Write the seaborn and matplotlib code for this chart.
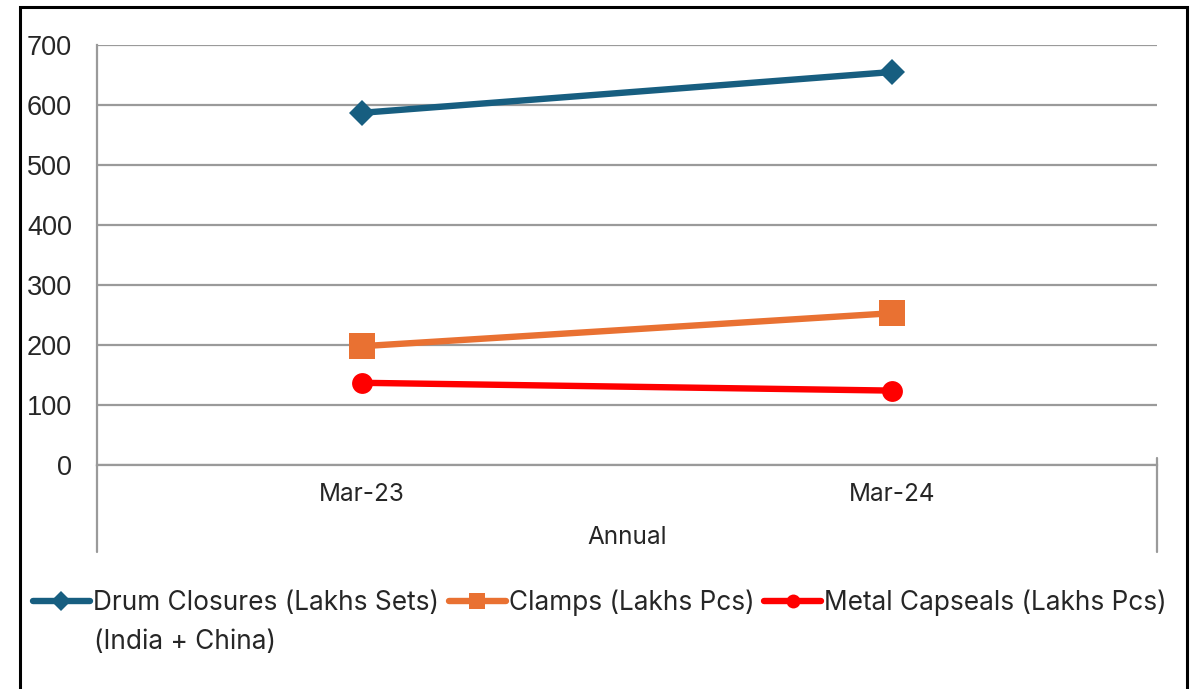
import pandas as pd
import matplotlib.pyplot as plt
import seaborn as sns
from matplotlib.lines import Line2D
from matplotlib.patches import Rectangle

# chart values
periods = ["Mar-23", "Mar-24"]
drum_closures = [587, 655]
clamps = [198, 253]
metal_capseals = [137, 124]

series_names = ["Drum Closures (Lakhs Sets)", "Clamps (Lakhs Pcs)", "Metal Capseals (Lakhs Pcs)"]
series_values = [drum_closures, clamps, metal_capseals]
series_colors = ["#175E80", "#E97132", "#FF0000"]
series_markers = ["D", "s", "o"]
marker_sizes = [13, 18.5, 15]
legend_marker_sizes = [10, 11, 10]
y_ticks = [0, 100, 200, 300, 400, 500, 600, 700]

sns.set_style("white")
plt.rcParams['font.family'] = ['Inter', 'DejaVu Sans']

grey = "#9A9A9A"
W, H = 1196, 689

fig = plt.figure(figsize=(W / 100, H / 100), dpi=100)
ax = fig.add_axes([97 / W, 1 - 465 / H, 1060 / W, 420 / H])

for name, vals, col, mk, ms in zip(series_names, series_values, series_colors, series_markers, marker_sizes):
    df = pd.DataFrame({"period": periods, "value": vals})
    sns.lineplot(data=df, x="period", y="value", ax=ax, color=col, marker=mk,
                 markersize=ms, markeredgewidth=0, linewidth=4.6, sort=False,
                 solid_capstyle="round", zorder=3)

ax.set_xlim(-0.5, 1.5)
ax.set_ylim(0, 700)
ax.set_yticks(y_ticks)
ax.set_yticklabels([str(v) for v in y_ticks], family="Liberation Sans", fontsize=19.5)
ax.set_xticks([0, 1])
ax.set_xticklabels(periods, fontsize=17.5)
ax.set_xticks([-0.5, 0.5, 1.5], minor=True)
ax.set_xlabel("Annual", fontsize=17.5, labelpad=14)
ax.set_ylabel("")

ax.yaxis.grid(True, color=grey, linewidth=1.6)
ax.set_axisbelow(True)
ax.tick_params(axis="y", direction="out", length=5, width=1.6, color=grey, pad=13)
ax.tick_params(axis="x", which="both", direction="inout", length=10, width=1.6, color=grey, pad=8)

for side in ["top", "right"]:
    ax.spines[side].set_visible(False)
for side in ["left", "bottom"]:
    ax.spines[side].set_color(grey)
    ax.spines[side].set_linewidth(1.6)

# outer category separators (Excel multi-level axis)
tr = ax.get_xaxis_transform()
ax.plot([-0.5, -0.5], [0, -0.207], transform=tr, color=grey, lw=1.6, clip_on=False)
ax.plot([1.5, 1.5], [0.017, -0.207], transform=tr, color=grey, lw=1.6, clip_on=False)

# legend
handles = [Line2D([], [], color=c, marker=m, markersize=s, markeredgewidth=0, linewidth=4.6,
                  solid_capstyle="round")
           for c, m, s in zip(series_colors, series_markers, legend_marker_sizes)]
fig.legend(handles, series_names, loc="center left", bbox_to_anchor=(33 / W, 1 - 603 / H),
           ncol=3, frameon=False, fontsize=18.9, handlelength=2.17, handletextpad=0.12,
           columnspacing=0.37, borderpad=0, borderaxespad=0)
fig.text(94 / W, 1 - 642 / H, "(India + China)", fontsize=18.9, va="center", ha="left")

# outer chart border
fig.patches.append(Rectangle((20 / W, -0.1), (1187 - 20) / W, 0.1 + (H - 7) / H,
                             transform=fig.transFigure, fill=False, ec="black", lw=2.2))

fig.savefig("out.png", dpi=100)
